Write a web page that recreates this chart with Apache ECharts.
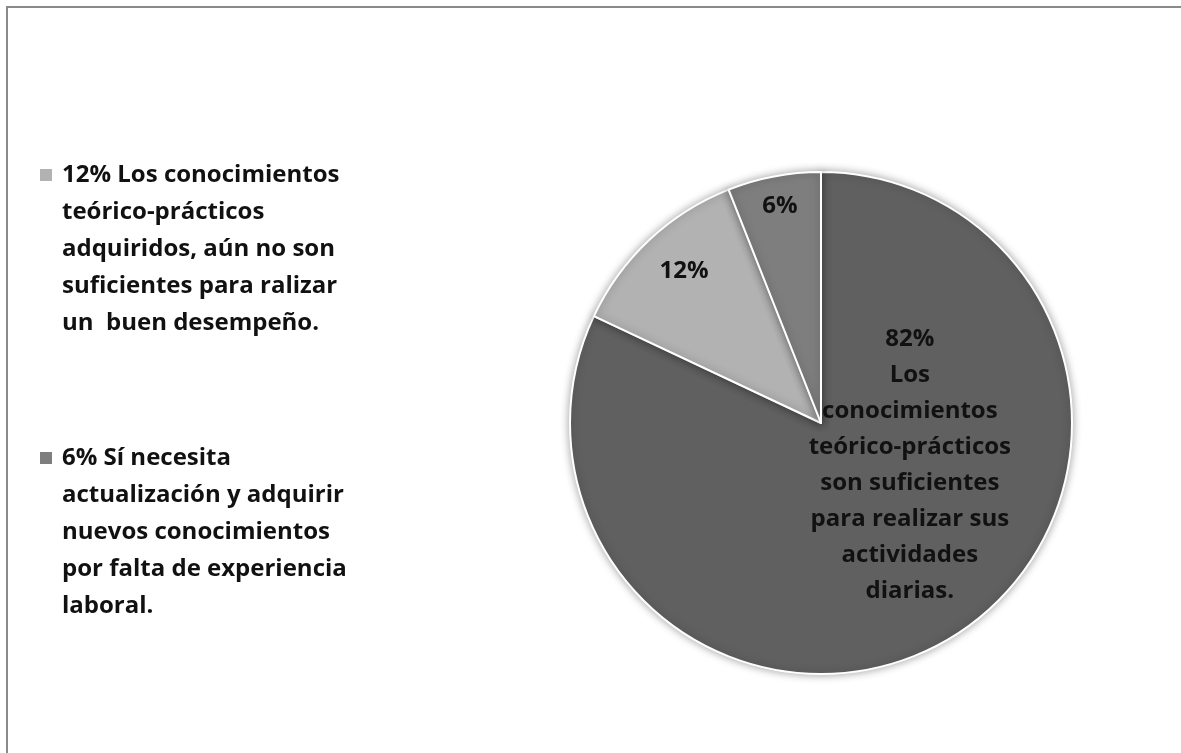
<!DOCTYPE html>
<html>
<head>
<meta charset="utf-8">
<script src="https://cdn.jsdelivr.net/npm/echarts@6/dist/echarts.min.js"></script>
<style>
  html, body { margin: 0; padding: 0; background: #ffffff; }
  #chart { width: 1181px; height: 753px; }
</style>
</head>
<body>
<div id="chart"></div>
<script>
// Survey answers: share of respondents per answer (percent)
const categories = [
  '82% Los conocimientos teórico-prácticos son suficientes para realizar sus actividades diarias.',
  '12% Los conocimientos\nteórico-prácticos\nadquiridos, aún no son\nsuficientes para ralizar\nun  buen desempeño.',
  '6% Sí necesita\nactualización y adquirir\nnuevos conocimientos\npor falta de experiencia\nlaboral.'
];
const values = [82, 12, 6];
// Text written inside each slice
const sliceLabels = [
  '82%\nLos\nconocimientos\nteórico-prácticos\nson suficientes\npara realizar sus\nactividades\ndiarias.',
  '12%',
  '6%'
];
// Only the two smaller answers appear in the legend
const legendItems = [categories[1], categories[2]];

const colors = ['#606060', '#b2b2b2', '#7e7e7e'];
const FONT = '"Open Sans", Lato, sans-serif';
const LINE = 37;
// label nudges from the default inside position, per slice
const labelShift = [[20, -66], [-49, -58], [-17, -91]];

// Legend markers sit beside the first text line: pad each entry with
// blank lines above so the block's middle falls on that first line.
function topAligned(text) {
  const n = text.split('\n').length;
  return '\n'.repeat(n - 1) + text;
}

const chart = echarts.init(document.getElementById('chart'), null, { renderer: 'canvas' });

chart.setOption({
  backgroundColor: '#ffffff',
  animation: false,
  color: colors,
  legend: {
    orient: 'vertical',
    left: 38,
    top: 175 - LINE * 4.5,
    padding: 0,
    data: legendItems,
    selectedMode: false,
    icon: 'rect',
    itemWidth: 14,
    itemHeight: 14,
    itemGap: 283 - LINE * 9,
    formatter: topAligned,
    textStyle: {
      fontFamily: FONT,
      fontWeight: 'bold',
      fontSize: 24,
      lineHeight: LINE,
      color: '#111111',
      padding: [0, 0, 0, 4]
    }
  },
  graphic: [
    { type: 'line', shape: { x1: 6, y1: 7, x2: 1181, y2: 7 }, style: { stroke: '#8a8a8a', lineWidth: 2 } },
    { type: 'line', shape: { x1: 7, y1: 6, x2: 7, y2: 753 }, style: { stroke: '#8a8a8a', lineWidth: 2 } }
  ],
  series: [{
    type: 'pie',
    center: [821, 423],
    radius: [0, 251],
    startAngle: 90,
    clockwise: true,
    avoidLabelOverlap: false,
    itemStyle: {
      borderColor: '#ffffff',
      borderWidth: 2,
      shadowBlur: 8,
      shadowColor: 'rgba(0,0,0,0.35)'
    },
    label: {
      show: true,
      position: 'inside',
      fontFamily: FONT,
      fontWeight: 'bold',
      fontSize: 24,
      lineHeight: 36,
      color: '#111111',
      align: 'center',
      formatter: function (p) { return sliceLabels[p.dataIndex]; }
    },
    labelLine: { show: false },
    labelLayout: function (p) {
      const s = labelShift[p.dataIndex];
      return { dx: s[0], dy: s[1] };
    },
    emphasis: { disabled: true },
    data: categories.map(function (name, i) {
      return { name: name, value: values[i] };
    })
  }]
});
</script>
</body>
</html>
